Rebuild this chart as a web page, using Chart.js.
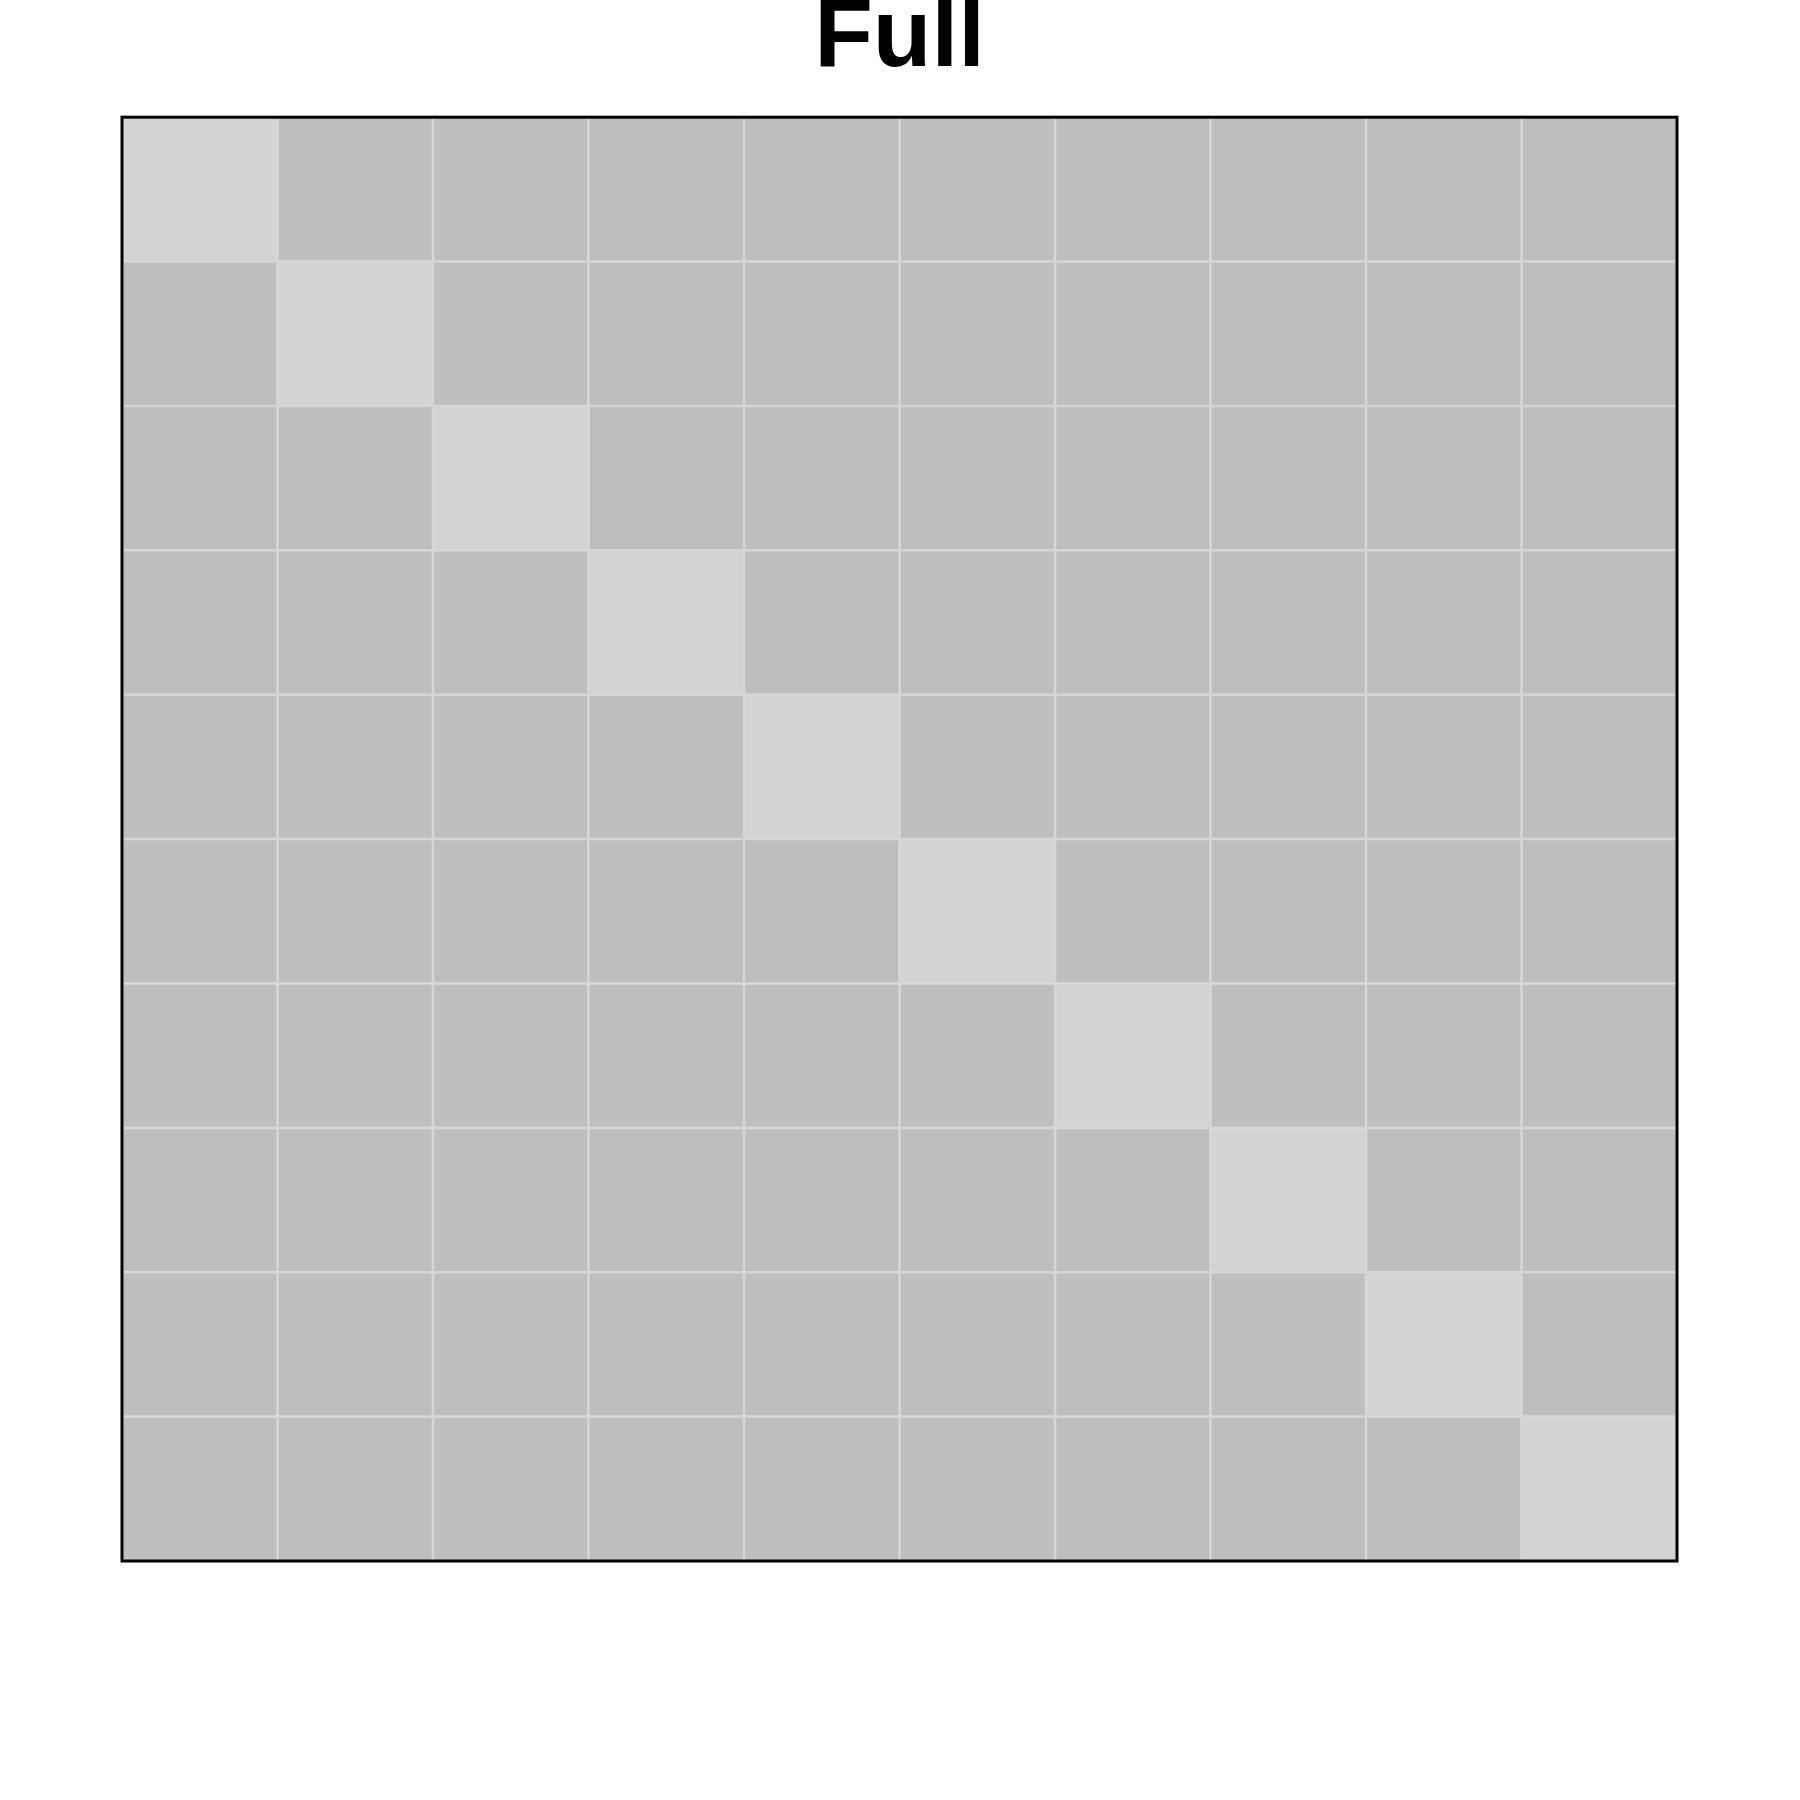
<!DOCTYPE html>
<html>
<head>
<meta charset="utf-8">
<script src="https://cdn.jsdelivr.net/npm/chart.js@4/dist/chart.umd.min.js"></script>
<style>
  html, body { margin: 0; padding: 0; background: #ffffff; }
  #wrap { width: 1800px; height: 1800px; }
</style>
</head>
<body>
<div id="wrap"><canvas id="c" width="1800" height="1800"></canvas></div>
<script>
// ---- data ----
const titleText = 'Full';
const columns = ['1', '2', '3', '4', '5', '6', '7', '8', '9', '10'];
const rows = ['1', '2', '3', '4', '5', '6', '7', '8', '9', '10'];
// cell values (diagonal = variance, off-diagonal = covariance)
const matrix = [
  [1, 0.5, 0.5, 0.5, 0.5, 0.5, 0.5, 0.5, 0.5, 0.5],
  [0.5, 1, 0.5, 0.5, 0.5, 0.5, 0.5, 0.5, 0.5, 0.5],
  [0.5, 0.5, 1, 0.5, 0.5, 0.5, 0.5, 0.5, 0.5, 0.5],
  [0.5, 0.5, 0.5, 1, 0.5, 0.5, 0.5, 0.5, 0.5, 0.5],
  [0.5, 0.5, 0.5, 0.5, 1, 0.5, 0.5, 0.5, 0.5, 0.5],
  [0.5, 0.5, 0.5, 0.5, 0.5, 1, 0.5, 0.5, 0.5, 0.5],
  [0.5, 0.5, 0.5, 0.5, 0.5, 0.5, 1, 0.5, 0.5, 0.5],
  [0.5, 0.5, 0.5, 0.5, 0.5, 0.5, 0.5, 1, 0.5, 0.5],
  [0.5, 0.5, 0.5, 0.5, 0.5, 0.5, 0.5, 0.5, 1, 0.5],
  [0.5, 0.5, 0.5, 0.5, 0.5, 0.5, 0.5, 0.5, 0.5, 1]
];

function cellColor(v) {
  return v >= 1 ? '#d3d3d3' : '#bebebe';
}

const datasets = rows.map((r, ri) => ({
  label: 'row ' + r,
  data: columns.map(() => [ri, ri + 1]),
  backgroundColor: matrix[ri].map(cellColor),
  borderColor: '#d6d6d6',
  borderWidth: 1.6,
  borderSkipped: false,
  grouped: false,
  categoryPercentage: 1.0,
  barPercentage: 1.0
}));

const framePlugin = {
  id: 'frame',
  afterDatasetsDraw(chart) {
    const a = chart.chartArea;
    const ctx = chart.ctx;
    ctx.save();
    ctx.strokeStyle = '#000000';
    ctx.lineWidth = 3;
    ctx.strokeRect(a.left, a.top, a.right - a.left, a.bottom - a.top);
    ctx.restore();
  }
};

new Chart(document.getElementById('c'), {
  type: 'bar',
  data: { labels: columns, datasets: datasets },
  options: {
    responsive: false,
    animation: false,
    layout: { padding: { left: 122, right: 123, top: 0, bottom: 239 } },
    plugins: {
      legend: { display: false },
      tooltip: { enabled: false },
      title: {
        display: true,
        text: titleText,
        color: '#000000',
        font: { family: '"Liberation Sans", Arial, sans-serif', size: 96, weight: 'bold', lineHeight: 1.2 },
        padding: { top: -18, bottom: 20 }
      }
    },
    scales: {
      x: { type: 'category', display: false, offset: true },
      y: { type: 'linear', display: false, min: 0, max: 10, reverse: true }
    }
  },
  plugins: [framePlugin]
});
</script>
</body>
</html>
